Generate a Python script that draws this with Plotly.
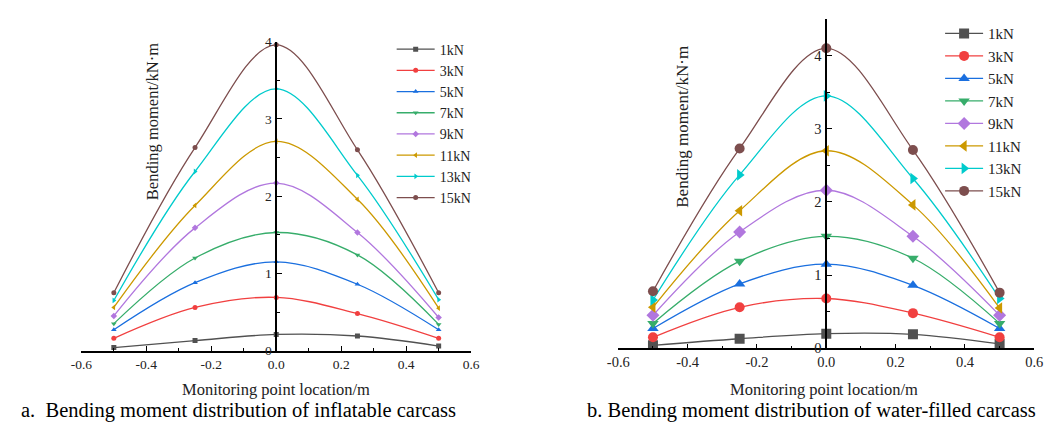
import plotly.graph_objects as go

# ---------------- data ----------------
positions = [-0.5, -0.25, 0.0, 0.25, 0.5]
loads = ["1kN", "3kN", "5kN", "7kN", "9kN", "11kN", "13kN", "15kN"]

# a. inflatable carcass
inflatable = {
    "1kN":  [0.04, 0.13, 0.21, 0.19, 0.06],
    "3kN":  [0.16, 0.56, 0.69, 0.48, 0.16],
    "5kN":  [0.27, 0.88, 1.15, 0.86, 0.27],
    "7kN":  [0.35, 1.20, 1.53, 1.24, 0.34],
    "9kN":  [0.45, 1.59, 2.17, 1.53, 0.43],
    "11kN": [0.56, 1.88, 2.71, 1.96, 0.55],
    "13kN": [0.65, 2.32, 3.39, 2.27, 0.66],
    "15kN": [0.75, 2.63, 3.96, 2.60, 0.75],
}
# b. water-filled carcass
water = {
    "1kN":  [0.04, 0.13, 0.20, 0.19, 0.06],
    "3kN":  [0.15, 0.56, 0.68, 0.48, 0.15],
    "5kN":  [0.27, 0.88, 1.15, 0.86, 0.27],
    "7kN":  [0.34, 1.19, 1.53, 1.23, 0.34],
    "9kN":  [0.45, 1.59, 2.16, 1.53, 0.45],
    "11kN": [0.56, 1.88, 2.70, 1.96, 0.55],
    "13kN": [0.66, 2.37, 3.45, 2.32, 0.68],
    "15kN": [0.78, 2.73, 4.10, 2.71, 0.76],
}

colors = ["#515151", "#F14040", "#1A6FDF", "#37AD6B",
          "#B177DE", "#CC9900", "#00CBCC", "#7D4E4E"]
symbols = ["square", "circle", "triangle-up", "triangle-down",
           "diamond", "triangle-left", "triangle-right", "circle"]

x_ticks = [-0.6, -0.4, -0.2, 0.0, 0.2, 0.4, 0.6]
x_tick_text = ["-0.6", "-0.4", "-0.2", "0.0", "0.2", "0.4", "0.6"]

FONT = "Liberation Serif"
W, H = 1058, 433

fig = go.Figure()

for i, name in enumerate(loads):
    fig.add_trace(go.Scatter(
        x=positions, y=inflatable[name], name=name, mode="lines+markers",
        line=dict(color=colors[i], width=1.3, shape="spline", smoothing=1),
        marker=dict(symbol=symbols[i], size=5, color=colors[i]),
        xaxis="x", yaxis="y", legend="legend"))
for i, name in enumerate(loads):
    fig.add_trace(go.Scatter(
        x=positions, y=water[name], name=name, mode="lines+markers",
        line=dict(color=colors[i], width=1.3, shape="spline", smoothing=1),
        marker=dict(symbol=symbols[i], size=10, color=colors[i]),
        xaxis="x2", yaxis="y2", legend="legend2"))

# domains (pixel-based)
lx0, lx1 = 71.7 / W, 469.0 / W
rx0, rx1 = 619.0 / W, 1043.0 / W
ly0, ly1 = 1 - 356.0 / H, 1 - 36.0 / H
ry0, ry1 = 1 - 353.5 / H, 1 - 12.5 / H

def xaxis_cfg(domain, anchor, fs):
    return dict(
        domain=domain, anchor=anchor, range=[-0.6, 0.6],
        tickvals=x_ticks, ticktext=x_tick_text,
        showline=True, linecolor="black", linewidth=1.5,
        ticks="inside", ticklen=5, tickwidth=1.3, tickcolor="black",
        minor=dict(ticks="inside", dtick=0.1, tick0=0, ticklen=3,
                   tickwidth=1.2, tickcolor="black"),
        showgrid=False, zeroline=False,
        tickfont=dict(family=FONT, size=fs, color="#222"),
    )

def yaxis_cfg(domain, rng, pos, lw, fs):
    return dict(
        domain=domain, anchor="free", position=pos, range=rng,
        tickvals=[0, 1, 2, 3, 4], ticktext=["0", "1", "2", "3", "4"],
        showline=True, linecolor="black", linewidth=lw,
        ticks="inside", ticklen=5, tickwidth=1.3, tickcolor="black",
        minor=dict(ticks="inside", dtick=0.5, tick0=0, ticklen=3,
                   tickwidth=1.2, tickcolor="black"),
        showgrid=False, zeroline=False, ticklabelstandoff=1,
        tickfont=dict(family=FONT, size=fs, color="#222"),
    )

fig.update_layout(
    width=W, height=H,
    margin=dict(l=0, r=0, t=0, b=0),
    paper_bgcolor="white", plot_bgcolor="white",
    xaxis=xaxis_cfg([lx0, lx1], "y", 13.5),
    yaxis=yaxis_cfg([ly0, ly1], [0, 4.0], (lx0 + lx1) / 2, 1.5, 13.5),
    xaxis2=xaxis_cfg([rx0, rx1], "y2", 14.5),
    yaxis2=yaxis_cfg([ry0, ry1], [0, 4.5], (rx0 + rx1) / 2, 2, 14.5),
    legend=dict(x=388 / W, y=1 - 27.5 / H, xanchor="left", yanchor="top",
                itemwidth=38,
                font=dict(family=FONT, size=14, color="#222"),
                bgcolor="rgba(0,0,0,0)", tracegroupgap=0),
    legend2=dict(x=947 / W, y=1 - 10.5 / H, xanchor="left", yanchor="top",
                 itemwidth=38,
                 font=dict(family=FONT, size=15, color="#222"),
                 bgcolor="rgba(0,0,0,0)", tracegroupgap=0),
    showlegend=True,
)

def txt(text, x, y, size, angle=0, xanchor="center", color="#222"):
    return dict(text=text, x=x / W, y=1 - y / H, xref="paper", yref="paper",
                xanchor=xanchor, yanchor="middle", showarrow=False,
                textangle=angle, font=dict(family=FONT, size=size, color=color))

ann = [
    txt("Bending moment/kN·m", 145, 119, 16.5, angle=-90),
    txt("Bending moment/kN·m", 685, 124, 17, angle=-90),
    txt("Monitoring point location/m", 270, 396, 16.5),
    txt("Monitoring point location/m", 829, 396, 16.5),
    txt("a.  Bending moment distribution of inflatable carcass", 8, 418, 20.5,
        xanchor="left", color="black"),
    txt("b. Bending moment distribution of water-filled carcass", 585, 418, 20.5,
        xanchor="left", color="black"),
]
fig.update_layout(annotations=ann)

fig.write_html("out.html")
